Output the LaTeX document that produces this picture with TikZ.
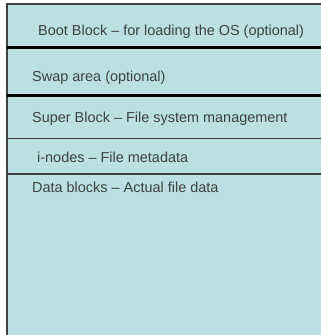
\documentclass[tikz,border=0pt]{standalone}
\usepackage{fontspec}
\setmainfont{Liberation Sans}
\definecolor{fillc}{HTML}{BAE0E3}
\definecolor{txt}{HTML}{404040}
\definecolor{edge}{HTML}{404040}
\begin{document}
\begin{tikzpicture}[x=1bp,y=-1bp,
  lbl/.style={anchor=west,text=txt,font=\fontsize{14.5}{16}\selectfont,inner sep=0pt},
  thin/.style={draw=edge,line width=1.2bp},
  thick/.style={draw=black,line width=3bp}]
\useasboundingbox (0,0) rectangle (321,335);
\fill[fillc] (7,4) rectangle (321,335);
\coordinate (tl) at (7,4);
\coordinate (tr) at (321,4);
\coordinate (bl) at (7,335);
\draw[thin] (bl) -- (tl) -- (tr);
\coordinate (a1) at (7,47.5); \coordinate (a2) at (321,47.5);
\coordinate (b1) at (7,95.5); \coordinate (b2) at (321,95.5);
\coordinate (c1) at (7,138.5); \coordinate (c2) at (321,138.5);
\coordinate (d1) at (7,174); \coordinate (d2) at (321,174);
\draw[thick] (a1) -- (a2);
\draw[thick] (b1) -- (b2);
\draw[thin] (c1) -- (c2);
\draw[thin] (d1) -- (d2);
\node[lbl] (boot) at (38,32) {Boot Block – for loading the OS (optional)};
\node[lbl] (swap) at (32,78) {Swap area (optional)};
\node[lbl] (super) at (32,119) {Super Block – File system management};
\node[lbl] (inodes) at (37,157) {i-nodes – File metadata};
\node[lbl] (data) at (32,187) {Data blocks – Actual file data};
\end{tikzpicture}
\end{document}
